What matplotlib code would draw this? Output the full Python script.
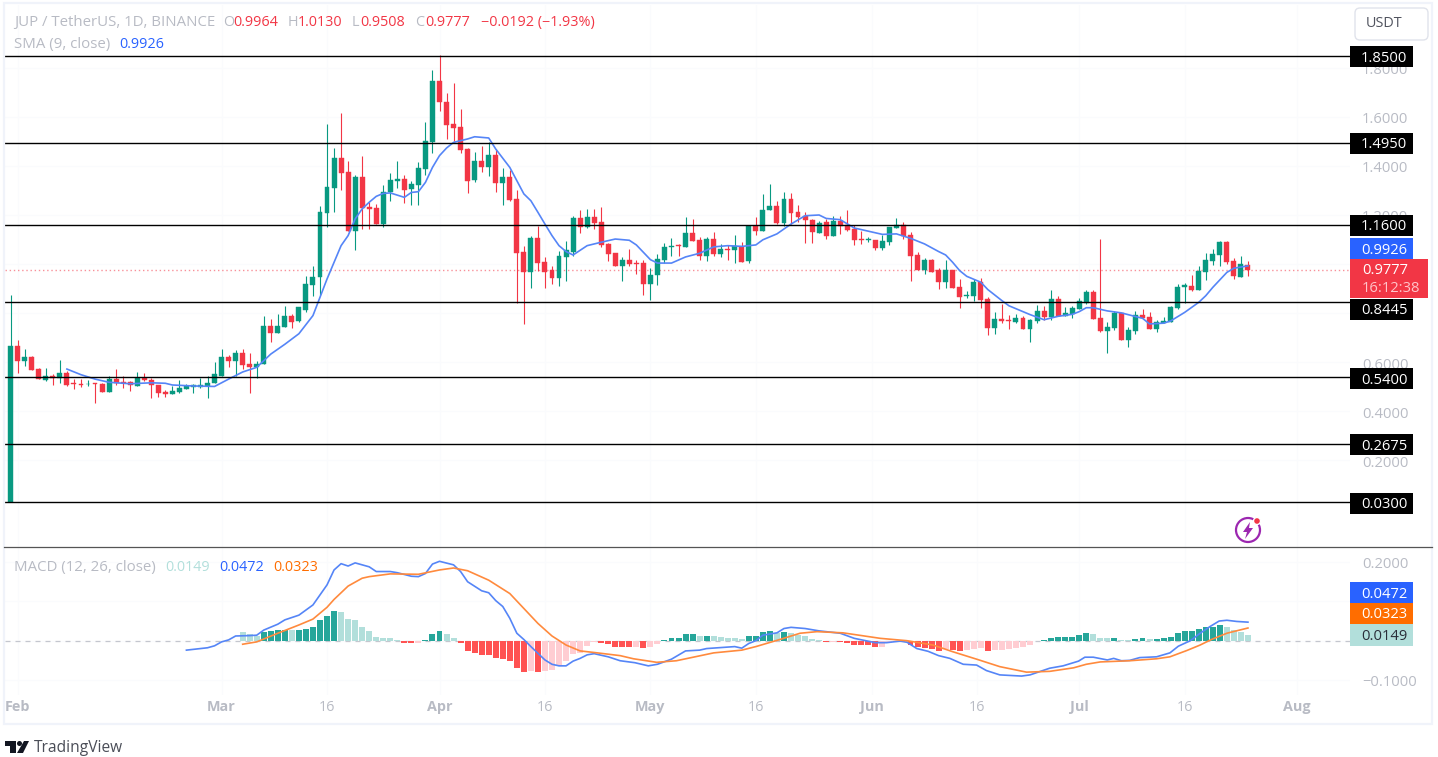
import matplotlib
matplotlib.use("Agg")
import matplotlib.pyplot as plt
import numpy as np
from matplotlib.patches import Rectangle, Circle, Polygon, FancyBboxPatch
from matplotlib.transforms import Affine2D, ScaledTranslation

plt.rcParams['font.family'] = ['Open Sans', 'DejaVu Sans']

# daily candles, index 0 = 31 Jan
opens = [.03, .665, .603, .621, .571, .529, .544, .534, .557, .514,
         .512, .510, .514, .511, .477, .533, .520, .518, .504, .537,
         .527, .507, .478, .470, .478, .492, .497, .500, .504, .514,
         .545, .620, .603, .636, .594, .580, .591, .747, .717, .743,
         .788, .768, .814, .916, .946, 1.210, 1.310, 1.431, 1.374, 1.136,
         1.354, 1.234, 1.230, 1.162, 1.292, 1.339, 1.345, 1.305, 1.321, 1.388,
         1.498, 1.745, 1.662, 1.572, 1.559, 1.469, 1.341, 1.419, 1.396, 1.443,
         1.329, 1.354, 1.265, 1.048, .966, 1.105, 1.007, .974, .945, 1.027,
         1.048, 1.188, 1.151, 1.192, 1.170, 1.082, 1.045, .992, 1.015, 1.003,
         1.003, .920, .954, 1.015, 1.070, 1.076, 1.070, 1.127, 1.098, 1.033,
         1.102, 1.041, 1.060, 1.057, 1.070, 1.012, 1.155, 1.136, 1.219, 1.238,
         1.166, 1.267, 1.214, 1.196, 1.181, 1.128, 1.170, 1.114, 1.177, 1.161,
         1.143, 1.102, 1.099, 1.098, 1.064, 1.090, 1.147, 1.161, 1.118, 1.037,
         .974, 1.015, .974, .925, .974, .908, .868, .871, .928, .858,
         .739, .776, .772, .763, .780, .735, .769, .808, .786, .858,
         .788, .796, .817, .841, .887, .780, .727, .739, .801, .691,
         .727, .792, .783, .735, .760, .764, .821, .908, .912, .896,
         .968, 1.012, 1.036, 1.091, 1.011, .949, .9964]
highs = [.875, .690, .652, .624, .578, .575, .552, .609, .565, .533,
         .533, .529, .515, .515, .542, .572, .542, .525, .561, .557,
         .535, .507, .488, .504, .527, .510, .512, .537, .545, .599,
         .652, .628, .650, .654, .637, .605, .787, .776, .796, .829,
         .796, .826, .953, .991, 1.238, 1.572, 1.473, 1.614, 1.419, 1.362,
         1.439, 1.252, 1.245, 1.324, 1.370, 1.419, 1.362, 1.337, 1.415, 1.580,
         1.790, 1.851, 1.696, 1.737, 1.633, 1.472, 1.456, 1.480, 1.496, 1.469,
         1.390, 1.383, 1.303, 1.075, 1.116, 1.154, 1.027, .993, 1.053, 1.095,
         1.197, 1.222, 1.224, 1.224, 1.234, 1.086, 1.045, 1.027, 1.060, 1.015,
         1.018, .985, 1.040, 1.086, 1.105, 1.080, 1.193, 1.184, 1.109, 1.109,
         1.129, 1.080, 1.078, 1.118, 1.089, 1.159, 1.193, 1.284, 1.325, 1.258,
         1.292, 1.290, 1.242, 1.214, 1.184, 1.177, 1.184, 1.197, 1.197, 1.222,
         1.159, 1.133, 1.110, 1.100, 1.120, 1.151, 1.188, 1.170, 1.129, 1.048,
         1.025, 1.019, .984, 1.017, .974, .939, .889, .939, .942, .864,
         .806, .837, .792, .796, .790, .775, .833, .829, .896, .871,
         .825, .828, .862, .893, .893, 1.102, .762, .809, .801, .745,
         .809, .817, .803, .772, .784, .829, .917, .921, .955, .993,
         1.045, 1.061, 1.094, 1.094, 1.023, 1.032, 1.013]
lows = [.03, .554, .583, .567, .530, .525, .508, .516, .504, .492,
        .499, .504, .435, .477, .477, .506, .496, .484, .504, .523,
        .455, .459, .459, .469, .476, .491, .476, .496, .455, .514,
        .545, .579, .545, .572, .476, .537, .591, .682, .717, .743,
        .739, .765, .806, .869, .875, 1.152, 1.211, 1.303, 1.135, 1.057,
        1.143, 1.143, 1.163, 1.152, 1.258, 1.309, 1.250, 1.242, 1.242, 1.363,
        1.453, 1.625, 1.510, 1.503, 1.453, 1.288, 1.333, 1.374, 1.358, 1.295,
        1.242, 1.258, .841, .756, .904, .973, .904, .917, .909, .930,
        1.034, 1.127, 1.147, 1.143, 1.071, 1.012, .992, .930, .992, .961,
        .875, .855, .916, 1.003, 1.032, 1.032, 1.070, 1.094, 1.015, 1.012,
        1.032, 1.029, 1.018, 1.003, 1.007, 1.003, 1.120, 1.136, 1.219, 1.162,
        1.154, 1.163, 1.170, 1.086, 1.086, 1.127, 1.102, 1.114, 1.123, 1.135,
        1.078, 1.082, 1.091, 1.057, 1.057, 1.079, 1.146, 1.102, .932, .974,
        .961, .966, .898, .904, .904, .822, .863, .849, .822, .711,
        .715, .760, .735, .760, .735, .681, .760, .773, .773, .787,
        .787, .782, .817, .839, .777, .724, .636, .731, .691, .662,
        .716, .780, .735, .724, .760, .764, .817, .841, .890, .894,
        .936, .996, .991, 1.000, .939, .946, .9508]
closes = [.665, .605, .620, .567, .530, .544, .535, .557, .508, .510,
          .507, .512, .511, .478, .533, .515, .516, .506, .537, .526,
          .506, .474, .472, .482, .495, .503, .507, .507, .516, .550,
          .620, .603, .636, .588, .580, .594, .747, .719, .747, .788,
          .764, .825, .920, .949, 1.212, 1.313, 1.431, 1.371, 1.135, 1.354,
          1.230, 1.224, 1.163, 1.295, 1.341, 1.347, 1.303, 1.325, 1.390, 1.502,
          1.745, 1.662, 1.568, 1.556, 1.466, 1.337, 1.419, 1.394, 1.443, 1.329,
          1.354, 1.263, 1.045, .966, 1.105, 1.004, .969, .945, 1.032, 1.056,
          1.188, 1.151, 1.192, 1.167, 1.078, 1.042, .992, 1.015, .999, 1.000,
          .920, .957, 1.019, 1.068, 1.074, 1.072, 1.127, 1.094, 1.033, 1.102,
          1.040, 1.061, 1.057, 1.074, 1.007, 1.155, 1.136, 1.222, 1.238, 1.166,
          1.267, 1.209, 1.193, 1.181, 1.131, 1.167, 1.114, 1.177, 1.156, 1.139,
          1.098, 1.097, 1.102, 1.066, 1.094, 1.151, 1.161, 1.113, 1.032, .974,
          1.017, .969, .925, .974, .904, .867, .875, .928, .855, .739,
          .776, .768, .769, .780, .735, .772, .809, .784, .858, .788,
          .801, .821, .849, .887, .777, .727, .743, .801, .691, .731,
          .792, .780, .735, .764, .768, .826, .908, .915, .896, .970,
          1.015, 1.040, 1.091, 1.008, .951, .999, .9777]

# SMA at these candles
sma_idx = [8, 10, 12, 14, 17, 20, 22, 23, 26, 29, 31, 33, 35, 37, 39, 41, 43, 45, 47, 48,
           49, 50, 51, 52, 53, 54, 56, 57, 58, 59, 60, 61, 62, 63, 65, 66, 68, 69, 71, 72,
           73, 74, 75, 76, 77, 78, 79, 80, 82, 84, 86, 88, 89, 90, 91, 92, 94, 96, 98, 100,
           102, 104, 106, 107, 109, 111, 113, 115, 116, 118, 120, 124, 126, 128, 130, 132, 133, 134, 135, 136,
           138, 139, 141, 142, 145, 147, 149, 151, 152, 153, 154, 156, 158, 160, 161, 162, 164, 165, 167, 169,
           170, 171, 173, 174, 176]
sma_val = [.572, .549, .531, .518, .512, .516, .514, .507, .503, .501, .531, .560, .579, .633, .673, .716, .790, .939, 1.075, 1.116,
           1.184, 1.225, 1.252, 1.276, 1.288, 1.290, 1.272, 1.292, 1.295, 1.333, 1.394, 1.442, 1.473, 1.496, 1.510, 1.519, 1.514, 1.469, 1.394, 1.340,
           1.286, 1.258, 1.211, 1.163, 1.116, 1.075, 1.051, 1.037, 1.075, 1.089, 1.102, 1.097, 1.078, 1.048, 1.018, 1.004, 1.004, 1.029, 1.044, 1.070,
           1.075, 1.072, 1.078, 1.099, 1.123, 1.163, 1.197, 1.200, 1.186, 1.181, 1.147, 1.121, 1.123, 1.105, 1.082, 1.051, 1.037, 1.007, .973, .950,
           .926, .896, .851, .830, .794, .773, .787, .795, .806, .822, .822, .809, .801, .786, .779, .756, .759, .768, .803, .844,
           .871, .905, .966, .983, .9926]

levels = [1.85, 1.495, 1.16, .8445, .54, .2675, .03]
level_labels = ["1.8500", "1.4950", "1.1600", "0.8445", "0.5400", "0.2675", "0.0300"]
price_ticks = [1.8, 1.6, 1.4, 1.2, 1.0, .8, .6, .4, .2]
# 1.0 and 0.8 sit fully behind the price tags
price_tick_labels = ["1.8000", "1.6000", "1.4000", "1.2000", "", "", "0.6000", "0.4000", "0.2000"]
last_price = .9777

macd_idx = [25, 28, 29, 30, 31, 32, 34, 35, 36, 38, 39, 41, 43, 45, 46, 47, 48, 49, 51, 52,
            54, 55, 57, 58, 59, 60, 61, 63, 64, 65, 67, 68, 69, 70, 71, 72, 73, 74, 75, 76,
            77, 78, 79, 80, 81, 82, 83, 85, 86.7, 88.8, 90.7, 92, 94, 96, 98, 99, 103, 104, 105, 106,
            107, 109, 110, 111, 113, 115, 118, 120, 123, 124.6, 126.5, 127.5, 128.9, 130.5, 132, 133.6, 135.5, 137.4, 138.8, 140.7,
            143.8, 145, 147.8, 149.7, 151.9, 152.8, 154, 156, 156.9, 158, 159.2, 160.6, 163, 164.9, 166.1, 167.8, 169.2, 170.6, 171.9, 173,
            174.4, 176]
macd_val = [-.024, -.018, -.013, -.003, .002, .012, .013, .014, .027, .042, .053, .065, .091, .142, .180, .196, .190, .198, .188, .176,
            .176, .173, .164, .163, .171, .195, .202, .193, .176, .150, .127, .122, .102, .087, .057, .019, .003, -.015, -.032, -.049,
            -.060, -.064, -.064, -.052, -.045, -.036, -.033, -.041, -.051, -.056, -.064, -.060, -.047, -.026, -.024, -.020, -.015, -.019, -.007, 0,
            .014, .020, .031, .034, .031, .025, .019, .006, -.005, -.005, -.001, -.004, -.020, -.027, -.038, -.045, -.060, -.062, -.076, -.087,
            -.090, -.087, -.070, -.064, -.052, -.042, -.042, -.049, -.045, -.051, -.050, -.043, -.041, -.031, -.014, 0, .019, .036, .050, .052,
            .049, .0472]
signal_idx = [33, 35, 38, 41, 43, 45, 46, 48, 50, 51, 54, 58, 61, 63, 65, 68, 71, 73, 75, 77,
              79, 81, 83, 86.7, 88.6, 91.9, 94.7, 100, 104, 106, 109.4, 112.3, 114.7, 118.4, 123.7, 127.5, 131.2, 134, 137.4, 140.7,
              144.5, 147.8, 151.2, 153, 155, 159.2, 163, 164.9, 167.3, 169.2, 170.8, 173, 176]
signal_val = [-.009, -.003, .019, .040, .055, .085, .105, .139, .159, .163, .170, .169, .180, .185, .178, .154, .120, .082, .044, .012,
              -.011, -.026, -.030, -.038, -.046, -.055, -.051, -.031, -.024, -.015, .003, .019, .023, .020, .006, 0, -.011, -.028, -.047, -.066,
              -.080, -.078, -.069, -.060, -.054, -.051, -.046, -.041, -.025, -.011, .003, .019, .0323]
hist_start = 33
hist_val = [.021, .016, .013, .021, .024, .026, .027, .026, .027, .031, .035, .052, .064, .075, .074, .055, .052,
            .036, .024, .010, .008, .006, .003, -.005, -.007, -.006, .002, .018, .024, .016, .008,
            -.007, -.025, -.031, -.036, -.037, -.044, -.046, -.051, -.069, -.080, -.078, -.079, -.077, -.075, -.062, -.052,
            -.033, -.031, -.014, -.003, -.007, -.009, -.015, -.016, -.017, -.015, -.018, -.015, -.009, .002,
            .006, .008, .016, .017, .012, .013, .011, .010, .008, .007, .005, .011, .013, .021, .024, .019, .023, .020,
            .014, .013, .004, .003, -.004, -.003, -.004, -.006, -.010, -.011, -.012, -.016, -.015, -.007, -.003, -.002,
            -.011, -.017, -.019, -.020, -.025, -.021, -.024, -.025, -.024, -.020, -.019, -.025, -.024, -.023, -.022, -.019,
            -.015, -.011, -.002, .002, .008, .0085, .009, .010, .015, .019, .016, .008, .006, .008, .002, .001, .005, .006,
            .005, .0055, .008, .010, .019, .024, .0245, .029, .034, .035, .039, .034, .026, .021, .0149]
macd_ticks = [.2, .1, 0, -.1]
# 0.1 sits fully behind the tags
macd_tick_labels = ["0.2000", "", "0.0000", "\u22120.1000"]

time_ticks = [1, 30, 45, 61, 76, 91, 106, 122.5, 137.5, 152, 167, 183]
time_labels = ["Feb", "Mar", "16", "Apr", "16", "May", "16", "Jun", "16", "Jul", "16", "Aug"]

W, H = 1438, 757
GREEN, RED, BLUE, ORANGE = "#089981", "#F23645", "#5585f7", "#ff8a3d"
GRAY = "#b8bbc4"
X0, STEP = 10.67, 7.03  # pixel of first candle, pixels per candle
LEFT, RIGHT = 5, 1350

fig = plt.figure(figsize=(W / 100, H / 100), dpi=100, facecolor="white")
# pixel coordinates, y down, for the bits around the panes
PX = Affine2D().scale(1, -1).translate(0, H)


def make_axes(top, bottom):
    ax = fig.add_axes([LEFT / W, (H - bottom) / H, (RIGHT - LEFT) / W, (bottom - top) / H])
    ax.set_xlim((LEFT - X0) / STEP, (RIGHT - X0) / STEP)
    for s in ax.spines.values():
        s.set_visible(False)
    ax.yaxis.tick_right()
    ax.tick_params(axis="y", length=0, pad=8.5, labelsize=10.6, labelcolor=GRAY)
    ax.tick_params(axis="x", length=0)
    return ax


def put_text(x, y, s, color, size=10.4, ha="left", **kw):
    # +1.5: open sans sits high with va center
    fig.text(x, y + 1.5, s, color=color, fontsize=size, ha=ha, va="center", transform=PX, zorder=5, **kw)


def tag(top, bottom, s, bg, fg="white", right=1413):
    fig.add_artist(Rectangle((1350, top), right - 1350, bottom - top, transform=PX, fc=bg, ec="none", zorder=4))
    put_text(1384, (top + bottom) / 2, s, fg, size=10.6, ha="center")


# price pane
ax = make_axes(5, 547)
ax.set_ylim(.03 - 45 / 245.3, .03 + 497 / 245.3)
ax.set_yticks(price_ticks)
ax.set_yticklabels(price_tick_labels)
for t in ax.get_yticklabels():
    t.set_transform(t.get_transform() + ScaledTranslation(0, -1 / 100, fig.dpi_scale_trans))
ax.set_xticks(time_ticks)
ax.set_xticklabels([])
ax.grid(True, color="#fafbfd", lw=0.8)
ax.set_axisbelow(True)

o, h, l, c = map(np.array, (opens, highs, lows, closes))
idx = np.arange(len(o))
up = c >= o
colors = np.where(up, GREEN, RED)
ax.axhline(last_price, color=RED, lw=1.0, ls=(0, (1, 2)), alpha=0.55, zorder=1)
ax.vlines(idx, l, h, colors=colors, lw=0.8, zorder=2)
ax.bar(idx, np.abs(c - o), bottom=np.minimum(o, c), width=0.7, color=colors, edgecolor=colors, lw=0.3, zorder=3)
ax.plot(sma_idx, sma_val, color=BLUE, lw=1.2, zorder=4)
for lv in levels:
    ax.axhline(lv, color="black", lw=1.0, zorder=5)

# macd pane
ax2 = make_axes(548, 695)
ax2.set_ylim((640.7 - 695) / 393, (640.7 - 548) / 393)
ax2.set_yticks(macd_ticks)
ax2.set_yticklabels(macd_tick_labels)
ax2.set_xticks(time_ticks)
ax2.set_xticklabels(time_labels, color=GRAY, fontsize=10.4)
for t, s in zip(ax2.get_xticklabels(), time_labels):
    if s != "16":
        t.set_fontweight("bold")
ax2.tick_params(axis="x", pad=3.8)
ax2.grid(True, color="#fafbfd", lw=0.8)
ax2.set_axisbelow(True)

hist = np.array(hist_val)
prev = np.r_[hist[0] + 1, hist[:-1]]
# dark shade while the bar grows, pale once it shrinks
hist_colors = [("#26a69a" if p < v else "#b2dfdb") if v >= 0 else ("#ff5252" if p > v else "#ffcdd2")
               for p, v in zip(prev, hist)]
ax2.axhline(0, color="#c4c6ce", lw=0.9, ls=(0, (4, 4)), zorder=1)
ax2.bar(np.arange(hist_start, hist_start + len(hist)), hist, width=0.85, color=hist_colors, zorder=2)
ax2.plot(macd_idx, macd_val, color=BLUE, lw=1.2, zorder=3)
ax2.plot(signal_idx, signal_val, color=ORANGE, lw=1.2, zorder=4)

# frame and pane separator
fig.add_artist(Rectangle((4, 3), 1428, 721, transform=PX, fc="none", ec="#f0f3fa", lw=1.6, zorder=1))
fig.add_artist(plt.Line2D([4, 1432], [547, 547], transform=PX, color="#555555", lw=0.9, zorder=3))

# price tags
tag_boxes = [(46, 67), (133, 154), (215, 236), (299, 320), (368, 389), (434, 455), (493, 514)]
for (top, bottom), s in zip(tag_boxes, level_labels):
    tag(top, bottom, s, "black")
tag(238, 259, "0.9926", "#2962ff")
fig.add_artist(Rectangle((1350, 259), 78, 39, transform=PX, fc=RED, ec="none", zorder=4))
put_text(1362, 269, "0.9777", "white", size=10.6)
put_text(1362, 287, "16:12:38", "#ffc4c9", size=10.6)
tag(582, 603, "0.0472", "#2962ff")
tag(603, 624, "0.0323", "#ff6d00")
tag(624, 646, "0.0149", "#b2dfdb", fg="#2a2e39")

# currency button
fig.add_artist(FancyBboxPatch((1358, 11), 67, 26, boxstyle="round,pad=3,rounding_size=5", transform=PX,
                              fc="white", ec="#e0e3eb", lw=1, zorder=4))
put_text(1366, 22, "USDT", "#50535e")

# legends
put_text(14, 21, "JUP / TetherUS, 1D, BINANCE", GRAY, size=10.85)
for x, s, col in [(223, "O", GRAY), (233, "0.9964", RED), (288, "H", GRAY), (298, "1.0130", RED),
                  (352, "L", GRAY), (360, "0.9508", RED), (415, "C", GRAY), (425, "0.9777", RED),
                  (481, "\u22120.0192 (\u22121.93%)", RED)]:
    put_text(x, 21, s, col)
put_text(14, 43, "SMA (9, close)", GRAY, size=10.85)
put_text(119, 43, "0.9926", "#2962ff")
put_text(14, 566, "MACD (12, 26, close)", GRAY, size=10.85)
put_text(165, 566, "0.0149", "#b2dfdb")
put_text(219, 566, "0.0472", "#2962ff")
put_text(273, 566, "0.0323", "#ff6d00")

# lightning badge
fig.add_artist(Circle((1248, 530), 12, transform=PX, fc="white", ec="#9c27b0", lw=1.6, zorder=4))
fig.add_artist(Polygon([(1250, 522), (1243, 532), (1247, 532), (1245, 539), (1253, 528), (1249, 528)],
                       transform=PX, fc="#9c27b0", ec="none", zorder=5))
fig.add_artist(Circle((1257, 521), 3.5, transform=PX, fc="#f23645", ec="white", lw=1, zorder=6))

# TradingView mark
LOGO = "#131722"
fig.add_artist(Polygon([(5, 741), (16, 741), (16, 753), (10, 753), (10, 746), (5, 746)], transform=PX, fc=LOGO, ec="none", zorder=4))
fig.add_artist(Circle((19.5, 743.5), 2.5, transform=PX, fc=LOGO, ec="none", zorder=4))
fig.add_artist(Polygon([(24, 741), (29, 741), (23, 753), (17, 753)], transform=PX, fc=LOGO, ec="none", zorder=4))
put_text(34, 746, "TradingView", "#4a4d57", size=11.2)

fig.savefig("out.png", dpi=100, facecolor="white")
